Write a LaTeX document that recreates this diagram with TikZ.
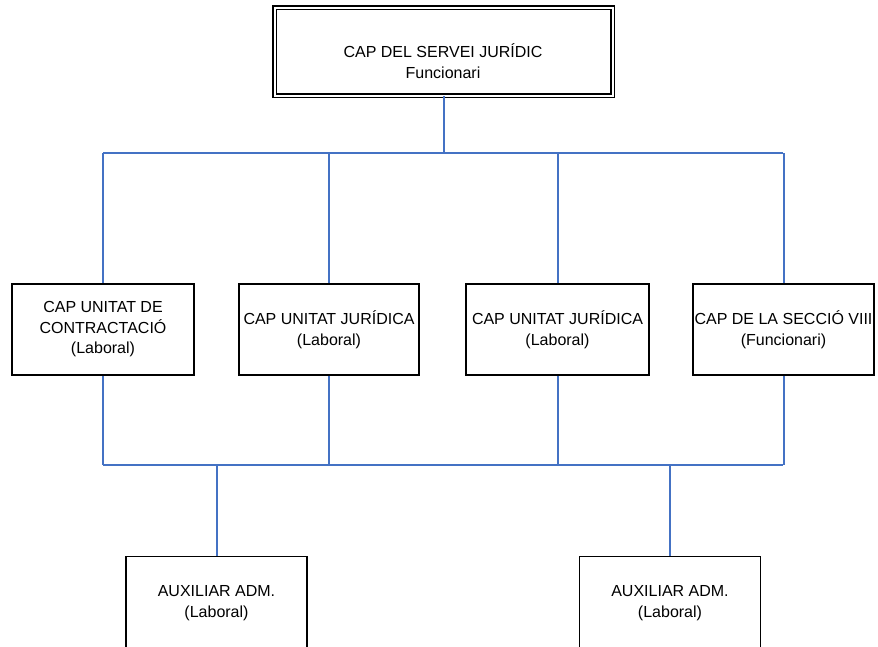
\documentclass[tikz,border=0pt]{standalone}
\usepackage{fontspec}
\setmainfont{Liberation Sans}
\definecolor{connblue}{HTML}{4472C4}
\begin{document}
\begin{tikzpicture}[x=1pt,y=-1pt,
  box/.style={draw=black,line width=1.8pt,fill=white,inner sep=0pt,align=center,
    font=\fontsize{16}{20.5}\selectfont},
  midbox/.style={box,minimum height=91pt},
  lowbox/.style={box,minimum width=181pt,minimum height=93pt},
  topbox/.style={draw=black,line width=1.8pt,double,double distance=2pt,inner sep=0pt,
    minimum width=338pt,minimum height=88pt},
  txt/.style={align=center,inner sep=0pt,font=\fontsize{16}{21}\selectfont},
  conn/.style={draw=connblue,line width=2pt}]
\useasboundingbox (0,0) rectangle (878,646);
\clip (0,0) rectangle (878,646);
% top
\node[topbox] (top) at (443.5,51.5) {};
\node[txt] (toptxt) at (443,61) {CAP DEL SERVEI JURÍDIC\\Funcionari};
% middle row
\node[midbox,minimum width=182pt] (m1) at (103,329.5) {CAP UNITAT DE\\CONTRACTACIÓ\\(Laboral)};
\node[midbox,minimum width=180pt] (m2) at (329,329.5) {CAP UNITAT JURÍDICA\\(Laboral)};
\node[midbox,minimum width=183pt] (m3) at (557.5,329.5) {CAP UNITAT JURÍDICA\\(Laboral)};
\node[midbox,minimum width=181pt] (m4) at (783.5,329.5) {CAP DE LA SECCIÓ VIII\\(Funcionari)};
% bottom row
\node[lowbox] (b1) at (216.5,603) {AUXILIAR ADM.\\(Laboral)};
\node[lowbox] (b2) at (670,603) {AUXILIAR ADM.\\(Laboral)};
% buses
\coordinate (busA) at (103,153);
\coordinate (busB) at (783,153);
\coordinate (busC) at (103,465);
\coordinate (busD) at (783,465);
\draw[conn] (top.south) -- (top.south |- busA);
\draw[conn] (busA) -- (busB);
\draw[conn] (m1.north) -- (m1.north |- busA);
\draw[conn] (m2.north) -- (m2.north |- busA);
\draw[conn] (m3.north) -- (m3.north |- busA);
\draw[conn] (m4.north) -- (m4.north |- busA);
\draw[conn] (m1.south) -- (m1.south |- busC);
\draw[conn] (m2.south) -- (m2.south |- busC);
\draw[conn] (m3.south) -- (m3.south |- busC);
\draw[conn] (m4.south) -- (m4.south |- busC);
\draw[conn] (busC) -- (busD);
\draw[conn] (b1.north) -- (b1.north |- busC);
\draw[conn] (b2.north) -- (b2.north |- busC);
\end{tikzpicture}
\end{document}
